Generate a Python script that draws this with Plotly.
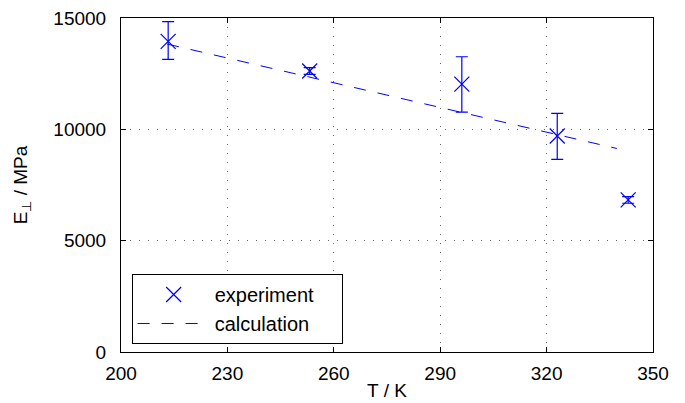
import plotly.graph_objects as go

T_exp = [213.3, 253.2, 296.1, 323.0, 343.0]
E_exp = [13950, 12620, 12030, 9700, 6830]
err_plus = [890, 150, 1230, 1020, 150]
err_minus = [810, 150, 1260, 1050, 150]

T_calc = [213.0, 339.8]
E_calc = [13830, 9140]

x_ticks = [200, 230, 260, 290, 320, 350]
y_ticks = [0, 5000, 10000, 15000]

blue = "#0000ff"
font = "Liberation Sans, Arial, sans-serif"
fs = 19
pad = "\u00a0" * 4

fig = go.Figure()
fig.add_trace(go.Scatter(
    x=T_exp, y=E_exp, mode="markers", name="experiment" + pad,
    marker=dict(symbol="x-thin-open", size=15, color=blue, line=dict(color=blue, width=1.2)),
    error_y=dict(type="data", symmetric=False, array=err_plus, arrayminus=err_minus,
                 color=blue, thickness=1.2, width=6),
))
fig.add_trace(go.Scatter(
    x=T_calc, y=E_calc, mode="lines", name="calculation",
    line=dict(color=blue, width=1, dash="12px,12px"),
))

axis_common = dict(
    showline=True, linecolor="black", linewidth=1, mirror="ticks",
    ticks="inside", ticklen=5, tickcolor="black", automargin=False,
    showgrid=True, gridcolor="#666666", griddash="1px,8px", gridwidth=1.3,
    zeroline=False, tickfont=dict(size=fs, color="black", family=font),
)
fig.update_xaxes(range=[200, 350], tickvals=x_ticks, ticktext=[str(v) for v in x_ticks],
                 ticklabelstandoff=4,
                 title=dict(text="T / K", font=dict(size=fs, color="black", family=font), standoff=0),
                 **axis_common)
fig.update_yaxes(range=[0, 15000], tickvals=y_ticks, ticktext=[str(v) for v in y_ticks],
                 ticklabelstandoff=10,
                 title=dict(text="E<sub>⊥</sub> / MPa", font=dict(size=fs, color="black", family=font), standoff=20),
                 **axis_common)

fig.update_layout(
    width=685, height=403,
    margin=dict(l=121, r=32, t=18, b=51, autoexpand=False),
    paper_bgcolor="white", plot_bgcolor="white",
    font=dict(family=font, size=fs, color="black"),
    showlegend=True,
    legend=dict(x=0.02, y=0.024, xanchor="left", yanchor="bottom",
                bgcolor="white", bordercolor="black", borderwidth=1,
                font=dict(size=20, color="black", family=font),
                tracegroupgap=0, itemwidth=72),
)

fig.write_html("out.html")
